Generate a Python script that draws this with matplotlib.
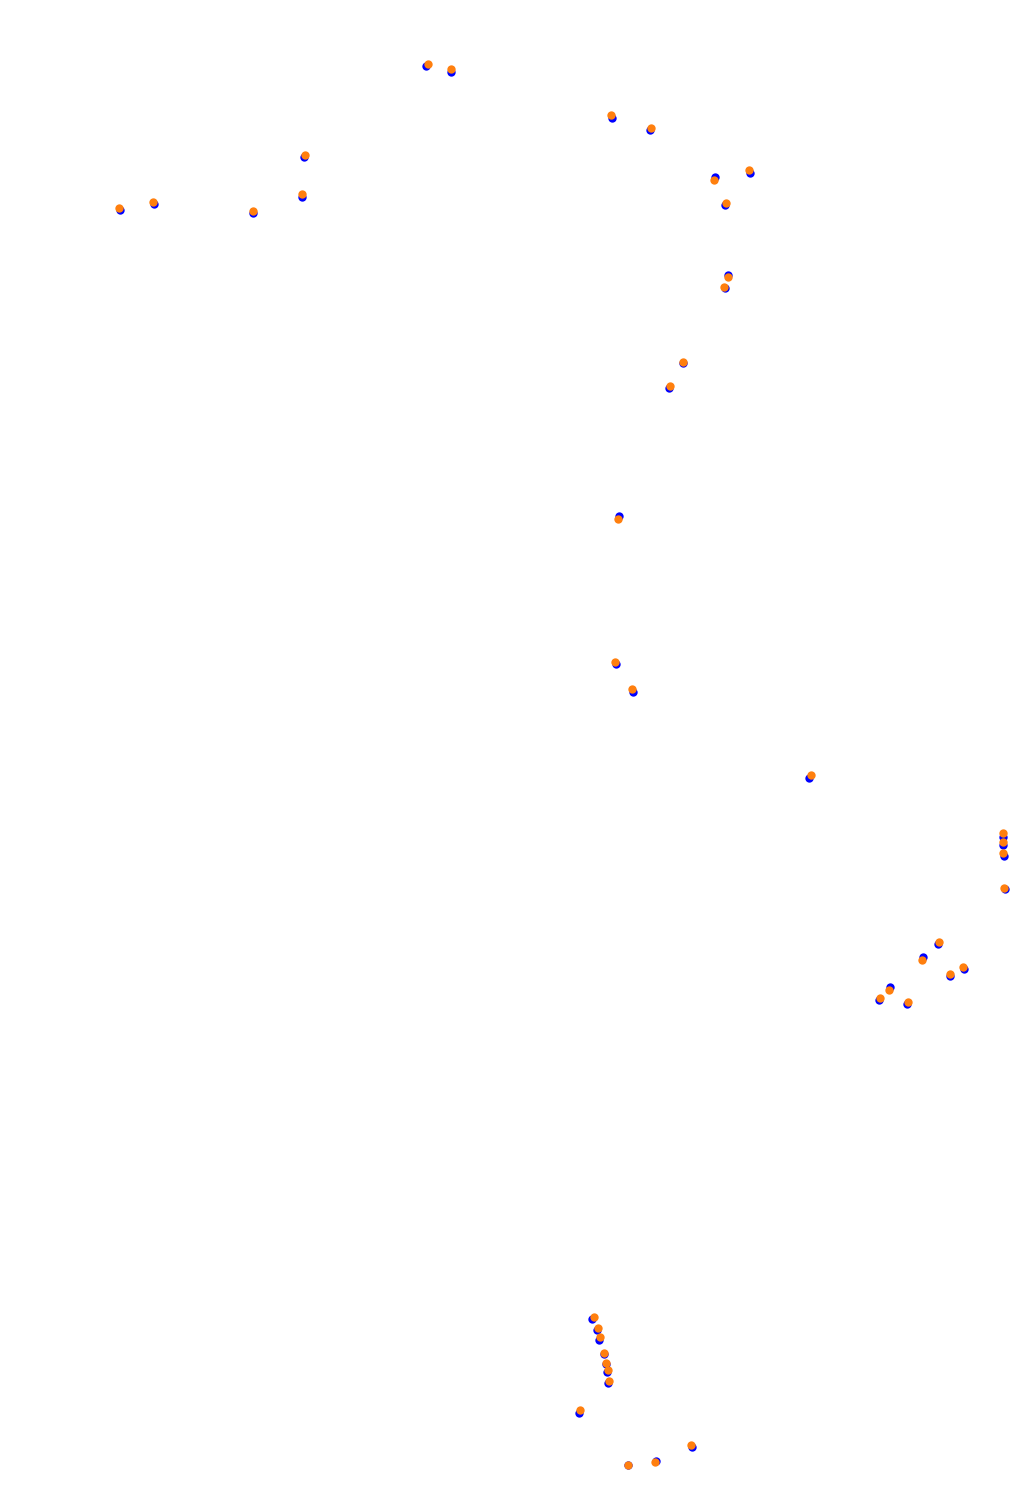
import matplotlib
matplotlib.use("Agg")
import matplotlib.pyplot as plt

# Point positions (x right, y down)
blue_x = [426.3, 451.0, 612.0, 650.0, 750.0, 714.7, 724.7, 728.3, 724.7,
          303.7, 301.7, 120.0, 153.7, 252.7, 682.7, 668.7, 618.7, 616.0,
          633.0, 809.3, 1003.0, 1003.0, 1004.0, 1005.0, 937.7, 923.0, 964.0,
          949.7, 890.0, 879.0, 907.0, 592.3, 596.7, 599.3, 603.7, 606.0,
          606.7, 607.7, 578.7, 692.3, 628.3, 656.0]
blue_y = [66.3, 72.0, 117.7, 130.0, 173.0, 177.3, 204.7, 275.3, 287.7,
          157.3, 197.0, 210.0, 204.0, 213.0, 362.5, 388.3, 516.0, 664.0,
          692.0, 777.7, 837.0, 845.0, 856.0, 889.0, 944.3, 957.0, 969.0,
          976.0, 986.7, 1000.0, 1004.0, 1319.0, 1330.0, 1340.0, 1353.5, 1364.0,
          1371.7, 1383.0, 1413.0, 1447.0, 1465.3, 1460.7]

orange_x = [428.0, 450.7, 610.7, 651.0, 748.7, 713.7, 725.7, 728.0, 723.7,
            304.7, 301.7, 119.0, 152.7, 252.7, 682.7, 670.0, 617.7, 615.0,
            632.0, 811.0, 1002.7, 1002.7, 1003.0, 1003.7, 938.7, 922.0, 963.0,
            949.7, 889.3, 880.0, 908.0, 593.7, 598.0, 600.3, 603.7, 606.0,
            608.0, 609.0, 580.0, 691.0, 627.7, 655.0]
orange_y = [64.0, 69.0, 115.3, 127.7, 169.7, 179.7, 202.7, 276.7, 286.7,
            154.7, 193.7, 207.7, 201.7, 210.7, 361.7, 385.7, 519.3, 661.7,
            689.3, 775.3, 833.3, 842.0, 853.0, 887.7, 942.0, 960.0, 966.7,
            973.7, 990.0, 997.7, 1001.7, 1316.7, 1327.7, 1336.7, 1352.7, 1362.7,
            1370.0, 1380.7, 1409.7, 1444.7, 1464.7, 1462.0]

fig = plt.figure(figsize=(10.23, 14.89), dpi=100)
ax = fig.add_axes([0, 0, 1, 1])

ax.scatter(blue_x, blue_y, s=36, color="#0000ff", linewidths=0)
ax.scatter(orange_x, orange_y, s=36, color="#ff7f0e", linewidths=0)

ax.set_xlim(0, 1023)
ax.set_ylim(1489, 0)
ax.axis("off")

fig.savefig("out.png", dpi=100, facecolor="white")
